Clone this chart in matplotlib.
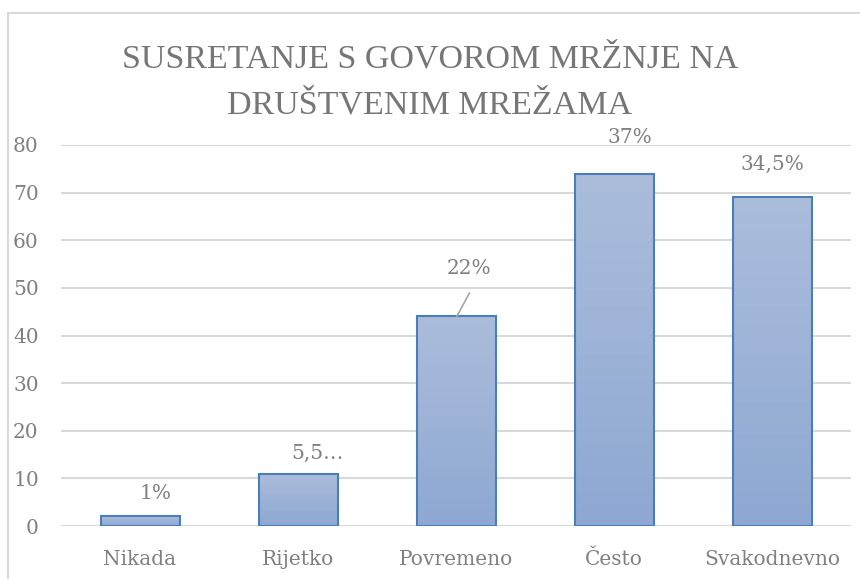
import matplotlib
matplotlib.use("Agg")
import matplotlib.pyplot as plt
import numpy as np
from matplotlib.colors import LinearSegmentedColormap
from matplotlib.patches import Rectangle

categories = ["Nikada", "Rijetko", "Povremeno", "Često", "Svakodnevno"]
values = [2, 11, 44, 74, 69]
labels = ["1%", "5,5…", "22%", "37%", "34,5%"]
# manual label positions (category offset, y in data units), as in the reference
label_pos = [(0.10, 6.9), (0.12, 15.3), (0.08, 54.0), (0.10, 81.5), (0.00, 76.0)]
yticks = [0, 10, 20, 30, 40, 50, 60, 70, 80]
title_lines = ["SUSRETANJE S GOVOROM MRŽNJE NA", "DRUŠTVENIM MREŽAMA"]

W, H = 860, 579
fig = plt.figure(figsize=(W / 100, H / 100), dpi=100)
font = "DejaVu Serif"
txtc = "#808080"

# outer chart border (right and bottom edges lie outside the picture)
fig.patches.append(Rectangle((8 / W, -0.5), 1.5, 1.5 - 13 / H, transform=fig.transFigure,
                             fill=False, edgecolor="#D9D9D9", linewidth=1.5))

ax = fig.add_axes([61 / W, 1 - 526 / H, (851 - 61) / W, (526 - 145) / H])
x = np.arange(len(categories))
bars = ax.bar(x, values, width=0.5, color="none", edgecolor="#4A7EBB", linewidth=1.5, zorder=3)

cmap = LinearSegmentedColormap.from_list("g", ["#8EA8D3", "#ABBDDB"])
grad = np.linspace(0, 1, 256).reshape(-1, 1)
for b in bars:
    bx, by = b.get_x(), b.get_y()
    bw, bh = b.get_width(), b.get_height()
    im = ax.imshow(grad, cmap=cmap, origin="lower", aspect="auto",
                   extent=[bx, bx + bw, by, by + bh], zorder=2)
    im.set_clip_path(b)

ax.set_xlim(-0.5, len(categories) - 0.5)
ax.set_ylim(0, 80)
ax.set_yticks(yticks)
ax.set_xticks(x)
ax.set_xticklabels(categories)
ax.yaxis.grid(True, color="#D9D9D9", linewidth=1.5, zorder=0)
ax.set_axisbelow(True)
for s in ax.spines.values():
    s.set_visible(False)
ax.tick_params(length=0, labelsize=14.5, labelcolor=txtc)
ax.tick_params(axis="y", pad=16)
ax.tick_params(axis="x", pad=17)
for t in ax.get_xticklabels() + ax.get_yticklabels():
    t.set_fontfamily(font)

for i, (lab, (dx, ly)) in enumerate(zip(labels, label_pos)):
    ax.text(i + dx, ly, lab, ha="center", va="center", fontsize=14.5,
            color=txtc, family=font, zorder=4, clip_on=False)

# leader line for 22% label
ax.plot([2 + 0.085, 2 + 0.005], [48.9, 44.0], color="#A6A6A6", linewidth=1.2, zorder=4)

for line, base in zip(title_lines, [68, 113]):
    fig.text(0.5, 1 - base / H, line, ha="center", va="baseline", fontsize=24.5,
             color="#767676", family=["Liberation Serif", "DejaVu Serif"])

fig.savefig("out.png", dpi=100)
